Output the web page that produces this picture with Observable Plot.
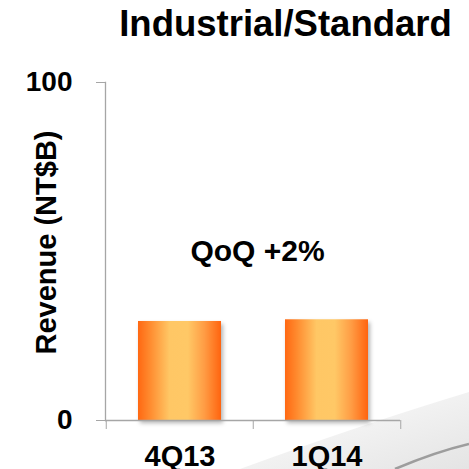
<!DOCTYPE html>
<html><head><meta charset="utf-8">
<script src="https://cdn.jsdelivr.net/npm/d3@7"></script>
<script src="https://cdn.jsdelivr.net/npm/@observablehq/plot@0.6"></script>
<style>
html,body{margin:0;padding:0;background:#fff;}
#wrap{position:relative;width:469px;height:469px;overflow:hidden;}
#wrap svg{position:absolute;left:0;top:0;}
</style></head><body><div id="wrap"></div>
<script>
const title = "Industrial/Standard";
const yLabel = "Revenue (NT$B)";
const quarters = ["4Q13", "1Q14"];
const revenue = [29.3, 29.8];
const yTicks = [0, 100];
const note = "QoQ +2%";

const data = quarters.map((q, i) => ({quarter: q, revenue: revenue[i]}));
const font = "'Liberation Sans', Arial, sans-serif";
const axisGrey = "#a6a6a6";
const W = 469, H = 469, mL = 105, mR = 69, mT = 82, mB = 49;
const step = (W - mL - mR) / quarters.length;

// decorative slide swoosh (background)
const deco = d3.create("svg").attr("width", W).attr("height", H);
const dg = deco.append("defs").append("linearGradient").attr("id", "swoosh")
  .attr("x1", 0).attr("y1", 0).attr("x2", 1).attr("y2", 1);
dg.append("stop").attr("offset", "0%").attr("stop-color", "#ffffff");
dg.append("stop").attr("offset", "100%").attr("stop-color", "#e4e4e4");
deco.append("path").attr("d", "M240,469 Q360,425 469,392 L469,469 Z").attr("fill", "url(#swoosh)");
deco.append("path").attr("d", "M395,469 Q435,452 469,444").attr("fill", "none")
  .attr("stroke", "#8a8a8a").attr("stroke-width", 2.5).attr("opacity", 0.8);
document.getElementById("wrap").append(deco.node());

const chart = Plot.plot({
  width: W, height: H,
  marginLeft: mL, marginRight: mR, marginTop: mT, marginBottom: mB,
  style: {fontFamily: font, background: "transparent", overflow: "visible"},
  x: {domain: quarters, padding: 0, axis: null, label: null},
  y: {domain: [0, 100], axis: null, label: null},
  marks: [
    Plot.barY(data, {x: "quarter", y: "revenue", fill: "url(#barGrad)", insetLeft: 32, insetRight: 32}),
    Plot.frame({anchor: "left", stroke: axisGrey, strokeWidth: 1.3}),
    Plot.ruleY([0], {stroke: axisGrey, strokeWidth: 1.3}),
    Plot.axisY({ticks: yTicks, tickSize: 9, tickPadding: 24, fontSize: 28, fontWeight: "bold",
      stroke: axisGrey, fill: "black", label: null, tickFormat: d => String(d)}),
    Plot.axisX({ticks: quarters, tickSize: 9, tickFormat: () => "", label: null, stroke: axisGrey, dx: -step / 2}),
    Plot.axisX({ticks: [quarters[quarters.length - 1]], tickSize: 9, tickFormat: () => "", label: null, stroke: axisGrey, dx: step / 2}),
    Plot.axisX({tickSize: 0, tickPadding: 25, fontSize: 29, fontWeight: "bold", fill: "black", label: null}),
    Plot.text([yLabel], {frameAnchor: "left", textAnchor: "middle", rotate: -90, dx: -59, dy: -9, fontSize: 29, fontWeight: "bold", fill: "black"}),
    Plot.text([note], {frameAnchor: "top", lineAnchor: "top", dx: 4.5, dy: 157, fontSize: 30, fontWeight: "bold", fill: "black"}),
    Plot.text([title], {frameAnchor: "top", lineAnchor: "top", dx: 32.5, dy: -72, fontSize: 36.5, fontWeight: "bold", fill: "black"})
  ]
});

const svg = d3.select(chart);
const grad = svg.insert("defs", ":first-child").append("linearGradient")
  .attr("id", "barGrad").attr("x1", 0).attr("y1", 0).attr("x2", 1).attr("y2", 0);
[["0%", "#ff6812"], ["14%", "#ff8a2e"], ["38%", "#ffc765"], ["60%", "#ffc866"], ["80%", "#ff9c44"], ["100%", "#ff640f"]]
  .forEach(([o, c]) => grad.append("stop").attr("offset", o).attr("stop-color", c));
svg.selectAll("g[aria-label='bar']").style("filter", "drop-shadow(2px 3px 2px rgba(0,0,0,0.3))");

document.getElementById("wrap").append(chart);
</script></body></html>
